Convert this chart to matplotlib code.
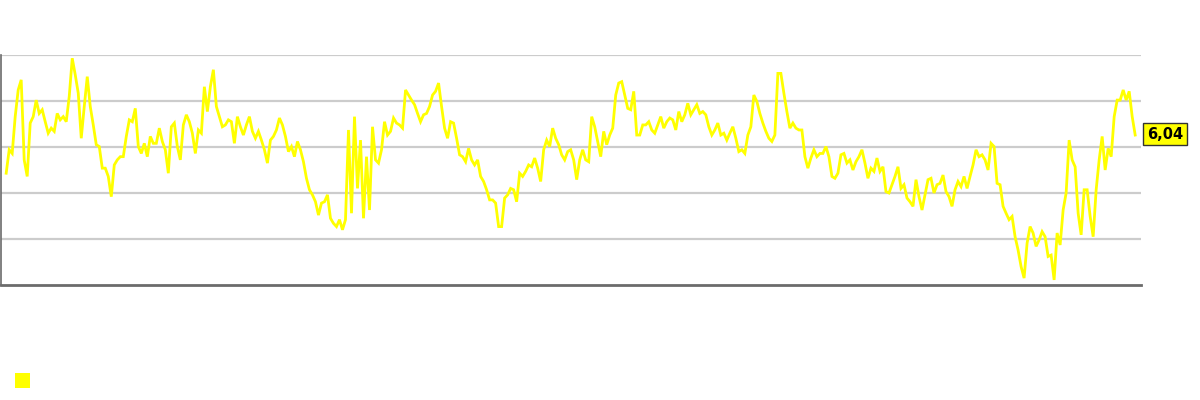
# Grafico de linha da cotacao (serie amarela com rotulo do ultimo valor)

import matplotlib
matplotlib.use("Agg")
import matplotlib.pyplot as plt
from matplotlib.patches import Rectangle

# Valores (um ponto a cada ~3 px)
cotacao = [
    5.21, 5.72, 5.64, 6.44, 7.02, 7.24, 5.50, 5.14, 6.30, 6.44, 6.80, 6.51, 6.59, 6.33, 6.08, 6.19, 6.12, 6.51,
    6.37, 6.44, 6.33, 6.88, 7.71, 7.35, 6.95, 5.97, 6.66, 7.31, 6.66, 6.26, 5.83, 5.79, 5.32, 5.32, 5.14, 4.70,
    5.39, 5.50, 5.57, 5.57, 6.01, 6.37, 6.33, 6.62, 5.79, 5.64, 5.86, 5.57, 6.01, 5.86, 5.86, 6.19, 5.90, 5.72,
    5.21, 6.22, 6.30, 5.79, 5.50, 6.26, 6.48, 6.33, 6.08, 5.64, 6.15, 6.08, 7.09, 6.55, 7.09, 7.46, 6.66, 6.44,
    6.22, 6.26, 6.37, 6.33, 5.86, 6.44, 6.22, 6.04, 6.26, 6.44, 6.12, 5.97, 6.12, 5.93, 5.72, 5.43, 5.93, 6.01,
    6.15, 6.41, 6.26, 6.01, 5.68, 5.79, 5.57, 5.90, 5.72, 5.46, 5.10, 4.85, 4.74, 4.59, 4.30, 4.56, 4.59,
    4.74, 4.23, 4.12, 4.05, 4.20, 3.98, 4.20, 6.15, 4.34, 6.44, 4.88, 5.93, 4.23, 5.57, 4.41, 6.22, 5.50, 5.43,
    5.72, 6.33, 6.04, 6.12, 6.41, 6.30, 6.26, 6.19, 7.02, 6.91, 6.80, 6.70, 6.51, 6.33, 6.48, 6.51, 6.66, 6.91,
    6.99, 7.17, 6.66, 6.19, 5.97, 6.33, 6.30, 5.97, 5.61, 5.57, 5.46, 5.75, 5.50, 5.39, 5.50, 5.14, 5.03,
    4.85, 4.63, 4.63, 4.56, 4.05, 4.05, 4.67, 4.74, 4.88, 4.85, 4.59, 5.21, 5.14, 5.25, 5.39, 5.35, 5.54, 5.32,
    5.03, 5.72, 5.93, 5.79, 6.19, 5.97, 5.83, 5.61, 5.50, 5.68, 5.72, 5.50, 5.07, 5.50, 5.72, 5.50, 5.46, 6.44,
    6.22, 5.90, 5.57, 6.12, 5.83, 6.04, 6.19, 6.91, 7.17, 7.20, 6.91, 6.62, 6.59, 6.99, 6.04, 6.04, 6.26,
    6.26, 6.33, 6.15, 6.08, 6.26, 6.44, 6.19, 6.33, 6.41, 6.37, 6.15, 6.55, 6.33, 6.48, 6.73, 6.48, 6.59, 6.70,
    6.51, 6.55, 6.48, 6.22, 6.04, 6.15, 6.30, 6.04, 6.08, 5.93, 6.08, 6.22, 5.97, 5.68, 5.72, 5.64, 6.04, 6.22,
    6.91, 6.77, 6.51, 6.30, 6.12, 5.97, 5.90, 6.04, 7.38, 7.38, 6.95, 6.55, 6.19, 6.30, 6.19, 6.15, 6.15,
    5.57, 5.32, 5.54, 5.72, 5.57, 5.64, 5.64, 5.79, 5.57, 5.14, 5.10, 5.21, 5.61, 5.64, 5.43, 5.50, 5.28, 5.46,
    5.57, 5.72, 5.43, 5.10, 5.32, 5.25, 5.54, 5.25, 5.35, 4.81, 4.78, 4.96, 5.14, 5.35, 4.88, 4.96, 4.67, 4.59,
    4.49, 5.07, 4.70, 4.41, 4.74, 5.07, 5.10, 4.78, 4.96, 4.99, 5.17, 4.81, 4.70, 4.49, 4.85, 5.03, 4.92, 5.14,
    4.88, 5.14, 5.39, 5.72, 5.57, 5.61, 5.50, 5.28, 5.86, 5.79, 4.99, 4.96, 4.49, 4.34, 4.20, 4.27, 3.83, 3.54,
    3.18, 2.93, 3.69, 4.05, 3.91, 3.62, 3.76, 3.94, 3.83, 3.40, 3.43, 2.89, 3.91, 3.65, 4.41, 4.78, 5.93, 5.50,
    5.35, 4.34, 3.87, 4.85, 4.85, 4.27, 3.83, 4.85, 5.50, 6.01, 5.28, 5.75, 5.57, 6.44, 6.80, 6.80, 7.02, 6.80,
    6.99, 6.44, 6.04,
]
dias = list(range(len(cotacao)))

# Limites do eixo e numero de divisoes da grade
y_min, y_max = 2.78, 7.78
divisoes = 5

# Cores
AMARELO = "#ffff00"
CINZA_GRADE = "#cccccc"
CINZA_EIXO = "#6b6b6b"

fig = plt.figure(figsize=(12, 4), dpi=100)
ax = fig.add_axes([0.001, 0.2875, 0.950, 0.575])

# Linha principal
ax.plot(dias, cotacao, color=AMARELO, linewidth=2.0, solid_joinstyle="miter", zorder=3)

ax.set_xlim(-1.66, len(cotacao) + 1.0)
ax.set_ylim(y_min, y_max)

# Grade horizontal
passo = (y_max - y_min) / divisoes
ax.set_yticks([y_min + passo * i for i in range(1, divisoes + 1)])
ax.yaxis.grid(True, color=CINZA_GRADE, linewidth=1.6)
ax.set_axisbelow(True)
ax.tick_params(left=False, bottom=False, labelleft=False, labelbottom=False)
ax.set_xticks([])

# Eixos
for lado in ["top", "right"]:
    ax.spines[lado].set_visible(False)
ax.spines["left"].set_color(CINZA_EIXO)
ax.spines["left"].set_linewidth(1.2)
ax.spines["bottom"].set_color(CINZA_EIXO)
ax.spines["bottom"].set_linewidth(2.0)

# Rotulo do ultimo valor
rotulo = f"{cotacao[-1]:.2f}".replace(".", ",")
ax.annotate(rotulo, xy=(1.0, cotacao[-1]), xycoords=("axes fraction", "data"),
            xytext=(4, 0.5), textcoords="offset points", ha="left", va="center",
            fontsize=10.5, fontweight="bold", color="black",
            bbox=dict(boxstyle="square,pad=0.25", facecolor=AMARELO, edgecolor="#333333", linewidth=1.0),
            annotation_clip=False)

# Legenda (apenas o quadrado amarelo)
fig.add_artist(Rectangle((15 / 1200, 12 / 400), 15 / 1200, 15 / 400,
                         transform=fig.transFigure, facecolor=AMARELO, edgecolor="none"))

fig.savefig("out.png", dpi=100, facecolor="white")
